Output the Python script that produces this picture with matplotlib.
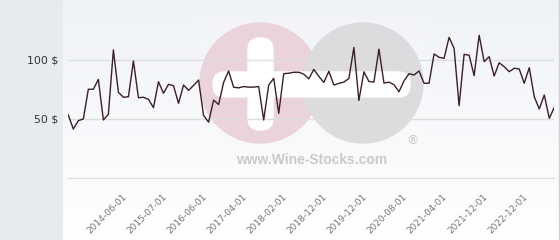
import numpy as np
import matplotlib
matplotlib.use("Agg")
from matplotlib import pyplot as plt
from matplotlib.patches import Circle, FancyBboxPatch, Rectangle

# price per bottle, one value per listing
prices = [53.4, 41.5, 48.6, 50, 75.2, 75.2, 83.6, 49.2, 54, 108.5,
          72.6, 68.4, 68.9, 99.2, 68, 68.4, 66.7, 59.6, 81.6, 71.8,
          79.4, 78.2, 63.3, 78.8, 74.3, 78.4, 83, 53, 47.3, 66,
          62.3, 81, 90.7, 76.9, 76.4, 77.5, 77, 77, 77.5, 49.2,
          78.8, 84.5, 54.8, 88.4, 88.8, 89.6, 89.6, 88, 84, 92,
          86.2, 81, 90.4, 78.8, 80.2, 81.3, 84.3, 110.6, 65.7, 90,
          81.8, 81.3, 109.2, 80.5, 81.2, 79.1, 73.1, 82.3, 88.4, 87.3,
          90.7, 80.3, 80.3, 105.1, 102.3, 101.4, 119.2, 109.9, 61.3, 104.8,
          104, 86.7, 121, 98.6, 102.8, 86.4, 97.7, 94.3, 90.1, 93,
          92.4, 80.3, 93.5, 68.9, 58.5, 70.3, 50.6, 59.9]

tick_labels = ["2014-06-01", "2015-07-01", "2016-06-01", "2017-04-01",
               "2018-02-01", "2018-12-01", "2019-12-01", "2020-08-01",
               "2021-04-01", "2021-12-01", "2022-12-01"]
tick_index = list(range(12, 12 + 8 * len(tick_labels), 8))

y_ticks = [50, 100]
y_labels = ["50 $", "100 $"]

W, H = 560, 240
fig = plt.figure(figsize=(W / 100, H / 100), dpi=100)

# grey side panel
fig.patches.append(Rectangle((0, 0), 63 / W, 1, transform=fig.transFigure,
                             color="#e7ebee", zorder=-10))

# background panel with gradient and watermark
bg = fig.add_axes([63 / W, 0, (W - 63) / W, 1])
grad = np.linspace(0, 1, 256).reshape(-1, 1)
top = np.array([0.937, 0.949, 0.968])
bottom = np.array([1.0, 1.0, 1.0])
img = top + (bottom - top) * grad[..., None]
bg.imshow(img, extent=[63, W, H, 0], aspect="auto", zorder=0)
bg.set_xlim(63, W)
bg.set_ylim(H, 0)
bg.axis("off")

bg.add_patch(Rectangle((197, 10), 232, 165, color="white", alpha=0.15, zorder=1))
bg.add_patch(Circle((260, 83), 60, color="#ebd3db", zorder=2))
bg.add_patch(Circle((363, 83), 60, color="#dcdcde", zorder=3))
bg.add_patch(FancyBboxPatch((248, 38), 25, 92, boxstyle="round,pad=0,rounding_size=12",
                            color="white", zorder=4))
bg.add_patch(FancyBboxPatch((213, 72), 197, 25, boxstyle="round,pad=0,rounding_size=12",
                            color="white", zorder=4))
bg.text(312, 160, "www.Wine-Stocks.com", family="Liberation Sans", weight="bold",
        fontsize=10, color="#cacaca", ha="center", va="center", zorder=5)
bg.text(412, 141, "\u00ae", fontsize=9, color="#c8c8c8", ha="center", va="center", zorder=5)
bg.plot([558.5, 558.5], [0, H], color="#d0d0d0", lw=1, zorder=5)

# main chart
ax = fig.add_axes([68.3 / W, 62 / H, 486 / W, 177 / H])
ax.set_facecolor("none")
x = np.arange(len(prices))
ax.plot(x, prices, color="#3a1e2a", lw=1.0, zorder=3)
ax.set_xlim(0, len(prices) - 1)
ax.set_ylim(0, 150)

ax.set_yticks(y_ticks)
ax.set_yticklabels(y_labels)
ax.yaxis.grid(True, color="#dedede", lw=1)
ax.set_axisbelow(True)
ax.tick_params(axis="y", length=0, pad=7, labelsize=7.8, labelcolor="#333333")

ax.set_xticks(tick_index)
ax.set_xticklabels(tick_labels, rotation=45, ha="right")
ax.tick_params(axis="x", length=0, pad=10, labelsize=6.5, labelcolor="#777777")

for side in ["top", "right", "left"]:
    ax.spines[side].set_visible(False)
ax.spines["bottom"].set_color("#dcdcdc")

fig.savefig("out.png", dpi=100)
